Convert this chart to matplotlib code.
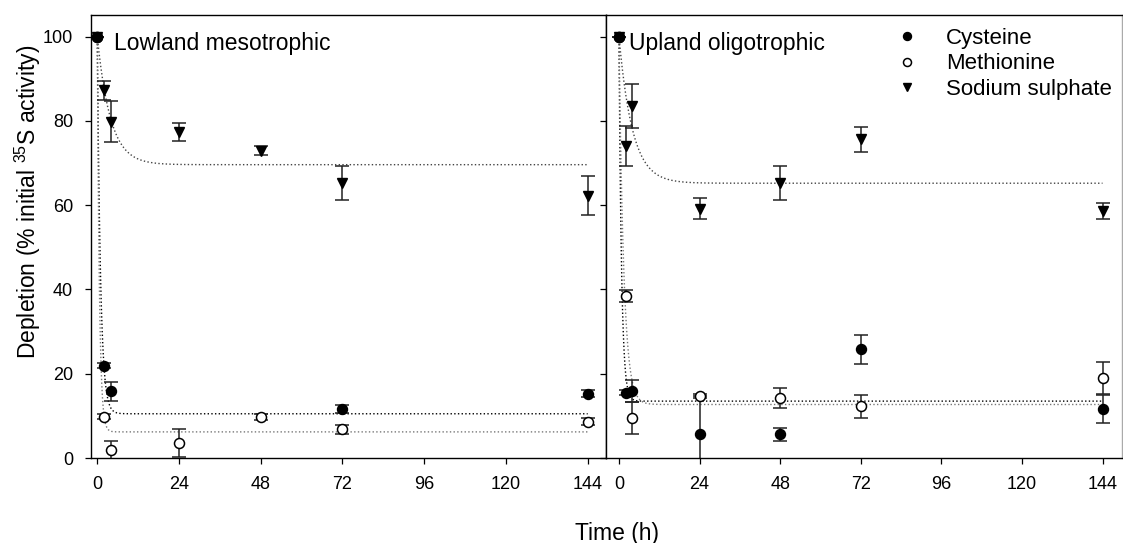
import numpy as np
import matplotlib.pyplot as plt
from matplotlib.lines import Line2D

plt.rcParams['font.family'] = ['Liberation Sans', 'DejaVu Sans']
plt.rcParams['mathtext.fontset'] = 'custom'
plt.rcParams['mathtext.rm'] = 'Liberation Sans'
plt.rcParams['mathtext.default'] = 'regular'

# sampling times (h)
hours = [0, 2, 4, 24, 48, 72, 144]
hours_cys_low = [0, 2, 4, 72, 144]

# Lowland mesotrophic
cys_low = [100, 21.9, 15.8, 11.6, 15.3]
cys_low_err = [0, 0.6, 2.3, 1.0, 0.8]
met_low = [100, 9.8, 1.9, 3.6, 9.8, 6.8, 8.6]
met_low_err = [0, 0.6, 2.1, 3.4, 0.7, 1.0, 0.8]
sul_low = [100, 87.2, 79.8, 77.4, 72.9, 65.3, 62.2]
sul_low_err = [0, 2.2, 4.8, 2.1, 1.1, 4.1, 4.6]

# Upland oligotrophic
cys_up = [100, 15.5, 15.8, 5.6, 5.6, 25.8, 11.7]
cys_up_err = [0, 0.6, 2.6, 9.0, 1.5, 3.4, 3.3]
met_up = [100, 38.4, 9.4, 14.7, 14.3, 12.3, 19.1]
met_up_err = [0, 1.5, 3.8, 0.5, 2.4, 2.7, 3.8]
sul_up = [100, 74.0, 83.5, 59.2, 65.2, 75.6, 58.6]
sul_up_err = [0, 4.75, 5.2, 2.6, 4.0, 3.0, 1.8]

# fitted exponential decay: plateau, rate constant (1/h)
fit_low = {"cys": (10.5, 1.05), "met": (6.2, 1.6), "sul": (69.6, 0.26)}
fit_up = {"cys": (13.5, 1.3), "met": (12.7, 0.7), "sul": (65.2, 0.25)}

labels = ["Cysteine", "Methionine", "Sodium sulphate"]
xticks = [0, 24, 48, 72, 96, 120, 144]

styles = {
    "cys": dict(marker="o", mfc="black", mec="black", ms=7.2),
    "met": dict(marker="o", mfc="white", mec="black", ms=7.2, mew=1.1),
    "sul": dict(marker="v", mfc="black", mec="black", ms=7.5),
}
fit_colors = {"cys": "black", "met": "#777777", "sul": "#444444"}


def draw_panel(ax, series, fits, title, xlim):
    t = np.linspace(0, 144, 2000)
    for key in ["cys", "met", "sul"]:
        plateau, k = fits[key]
        ax.plot(t, plateau + (100 - plateau) * np.exp(-k * t), ls=":",
                lw=1.0, color=fit_colors[key], zorder=1)
    # open circles underneath so the first point reads as a filled marker
    for key in ["met", "cys", "sul"]:
        x, y, e = series[key]
        ax.errorbar(x, y, yerr=e, ls="none", ecolor="#222222", elinewidth=1.1,
                    capsize=4.7, capthick=1.1, zorder=2, **styles[key])
    ax.set_xlim(*xlim)
    ax.set_ylim(0, 105)
    ax.set_xticks(xticks)
    ax.set_yticks([0, 20, 40, 60, 80, 100])
    ax.tick_params(direction="out", length=4, width=0.9, labelsize=13, pad=9)
    ax.text(0.045, 0.922, title, transform=ax.transAxes, fontsize=16.5,
            ha="left", va="baseline")
    for s in ax.spines.values():
        s.set_linewidth(1.0)


fig = plt.figure(figsize=(11.23, 5.43), dpi=100)
ax1 = fig.add_axes([0.0810, 0.1565, 0.4584, 0.815])
ax2 = fig.add_axes([0.5396, 0.1565, 0.4595, 0.815])

draw_panel(ax1, {"cys": (hours_cys_low, cys_low, cys_low_err),
                 "met": (hours, met_low, met_low_err),
                 "sul": (hours, sul_low, sul_low_err)},
           fit_low, "Lowland mesotrophic", (-1.85, 149.3))
draw_panel(ax2, {"cys": (hours, cys_up, cys_up_err),
                 "met": (hours, met_up, met_up_err),
                 "sul": (hours, sul_up, sul_up_err)},
           fit_up, "Upland oligotrophic", (-3.87, 149.8))
ax2.tick_params(axis="y", labelleft=False)
ax2.spines["right"].set_color("#aaaaaa")

handles = [Line2D([], [], ls="none", **styles[k]) for k in ["cys", "met", "sul"]]
ax2.legend(handles, labels, loc="upper left", bbox_to_anchor=(0.562, 0.972),
           frameon=False, fontsize=16, markerscale=0.8, handlelength=1.0,
           handletextpad=1.25, labelspacing=0.2, borderpad=0, borderaxespad=0)

fig.text(28 / 1123, 1 - 202 / 543, "Depletion (% initial $^{35}$S activity)",
         rotation=90, ha="center", va="center", fontsize=16.5)
fig.text(0.549, 0.006, "Time (h)", ha="center", va="baseline", fontsize=16.5)

fig.savefig("out.png", dpi=100)
